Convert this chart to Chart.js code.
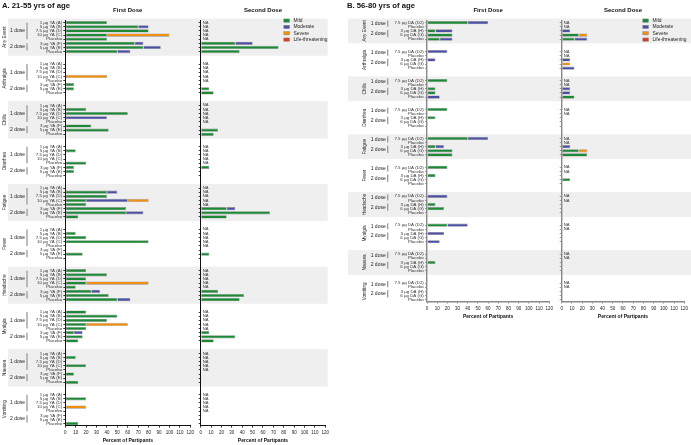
<!DOCTYPE html>
<html><head><meta charset="utf-8">
<script src="https://cdn.jsdelivr.net/npm/chart.js@4/dist/chart.umd.min.js"></script>
<style>
html,body{margin:0;padding:0;background:#fff;}
#wrap{position:relative;width:691px;height:445px;overflow:hidden;background:#fff;}
canvas{position:absolute;top:0;}
</style></head><body>
<div id="wrap">
<canvas id="a1" width="196" height="445" style="left:0px"></canvas>
<canvas id="a2" width="136" height="445" style="left:196px"></canvas>
<canvas id="b1" width="210" height="321" style="left:345px"></canvas>
<canvas id="b2" width="136" height="321" style="left:555px"></canvas>
</div>
<script>
const FONT = "'Liberation Sans', Arial, Helvetica, sans-serif";
Chart.defaults.font.family = FONT;
Chart.defaults.color = '#222';

const groups = ['Any Event','Arthralgia','Chills','Diarrhea','Fatigue','Fever','Headache','Myalgia','Nausea','Vomiting'];
const rowsA = ['1 µg YA (A)','5 µg YA (B)','7.5 µg YA (D)','10 µg YA (C)','Placebo','3 µg YA (F)','5 µg YA (E)','Placebo'];
const rowsB = ['7.5 µg DA (D2)','Placebo','3 µg DA (H)','6 µg DA (G)','Placebo'];
const severities = ['Mild','Moderate','Severe','Life-threatening'];
const severityColors = ['#1b8a36','#4b4fa6','#f0900f','#e23b1e'];
const xTicks = [0,10,20,30,40,50,60,70,80,90,100,110,120];
const NA = null;

// ---- A. 21-55 yrs, first dose (8 rows per group) ----
const aFirstMild = [
  40,70,80,40,40,66.7,75,50,
  0,0,0,0,0,8.3,8.3,0,
  0,20,60,0,0,25,41.7,0,
  0,10,0,0,20,8.3,8.3,0,
  0,40,40,20,20,58.3,58.3,12.5,
  0,10,20,80,0,0,16.7,0,
  20,40,20,20,10,25,41.7,50,
  20,50,40,20,20,8.3,16.7,12.5,
  0,10,0,20,0,8.3,0,12.5,
  0,20,0,0,0,0,0,12.5];
const aFirstModerate = [
  0,10,0,0,0,8.3,16.7,12.5,
  0,0,0,0,0,0,0,0,
  0,0,0,40,0,0,0,0,
  0,0,0,0,0,0,0,0,
  0,10,0,40,0,0,16.7,0,
  0,0,0,0,0,0,0,0,
  0,0,0,0,0,8.3,0,12.5,
  0,0,0,0,0,8.3,0,0,
  0,0,0,0,0,0,0,0,
  0,0,0,0,0,0,0,0];
const aFirstSevere = [
  0,0,0,60,0,0,0,0,
  0,0,0,40,0,0,0,0,
  0,0,0,0,0,0,0,0,
  0,0,0,0,0,0,0,0,
  0,0,0,20,0,0,0,0,
  0,0,0,0,0,0,0,0,
  0,0,0,60,0,0,0,0,
  0,0,0,40,0,0,0,0,
  0,0,0,0,0,0,0,0,
  0,0,0,20,0,0,0,0];
const aFirstLife = new Array(80).fill(0);

// ---- A. 21-55 yrs, second dose ----
const aSecondMild = [
  NA,NA,NA,NA,NA,33.3,75,37.5,
  NA,NA,NA,NA,NA,0,8.3,12.5,
  NA,NA,NA,NA,NA,0,16.7,12.5,
  NA,NA,NA,NA,NA,8.3,0,0,
  NA,NA,NA,NA,NA,25,66.7,25,
  NA,NA,NA,NA,NA,0,8.3,0,
  NA,NA,NA,NA,NA,16.7,41.7,37.5,
  NA,NA,NA,NA,NA,8.3,33.3,12.5,
  NA,NA,NA,NA,NA,0,0,0,
  NA,NA,NA,NA,NA,0,0,0];
const aSecondModerate = [
  NA,NA,NA,NA,NA,16.7,0,0,
  NA,NA,NA,NA,NA,0,0,0,
  NA,NA,NA,NA,NA,0,0,0,
  NA,NA,NA,NA,NA,0,0,0,
  NA,NA,NA,NA,NA,8.3,0,0,
  NA,NA,NA,NA,NA,0,0,0,
  NA,NA,NA,NA,NA,0,0,0,
  NA,NA,NA,NA,NA,0,0,0,
  NA,NA,NA,NA,NA,0,0,0,
  NA,NA,NA,NA,NA,0,0,0];
const aSecondSevere = aSecondModerate.map(v => v === NA ? NA : 0);
const aSecondLife = aSecondModerate.map(v => v === NA ? NA : 0);

// ---- B. 56-80 yrs, first dose (5 rows per group) ----
const bFirstMild = [
  40,0,8.3,25,12.5,
  0,0,0,0,0,
  20,0,8.3,8.3,0,
  20,0,8.3,0,0,
  40,0,8.3,25,25,
  20,0,8.3,0,0,
  0,0,8.3,16.7,0,
  20,0,0,0,0,
  0,0,8.3,0,0,
  0,0,0,0,0];
const bFirstModerate = [
  20,0,16.7,0,12.5,
  20,0,8.3,0,0,
  0,0,0,0,12.5,
  0,0,0,0,0,
  20,0,8.3,0,0,
  0,0,0,0,0,
  20,0,0,0,0,
  20,0,16.7,0,12.5,
  0,0,0,0,0,
  0,0,0,0,0];
const bFirstSevere = new Array(50).fill(0);
const bFirstLife = new Array(50).fill(0);

// ---- B. 56-80 yrs, second dose ----
const bSecondMild = [
  NA,NA,0,16.7,12.5,
  NA,NA,0,0,0,
  NA,NA,0,0,12.5,
  NA,NA,0,0,0,
  NA,NA,0,16.7,25,
  NA,NA,0,8.3,0,
  NA,NA,0,0,0,
  NA,NA,0,0,0,
  NA,NA,0,0,0,
  NA,NA,0,0,0];
const bSecondModerate = [
  NA,NA,8.3,0,12.5,
  NA,NA,8.3,0,12.5,
  NA,NA,8.3,8.3,0,
  NA,NA,0,0,0,
  NA,NA,8.3,0,0,
  NA,NA,0,0,0,
  NA,NA,0,0,0,
  NA,NA,0,0,0,
  NA,NA,0,0,0,
  NA,NA,0,0,0];
const bSecondSevere = [
  NA,NA,0,8.3,0,
  NA,NA,0,8.3,0,
  NA,NA,0,0,0,
  NA,NA,0,0,0,
  NA,NA,0,8.3,0,
  NA,NA,0,0,0,
  NA,NA,0,0,0,
  NA,NA,0,0,0,
  NA,NA,0,0,0,
  NA,NA,0,0,0];
const bSecondLife = bSecondSevere.map(v => v === NA ? NA : 0);

// ---- helpers ----
function buildLabels(rows){
  const out = [];
  groups.forEach((g, gi) => { rows.forEach(r => out.push(r)); if (gi < groups.length - 1) out.push('', ''); });
  return out;
}
function spread(values, n){
  const out = [];
  for (let g = 0; g < groups.length; g++){
    for (let r = 0; r < n; r++) out.push(values[g * n + r]);
    if (g < groups.length - 1) out.push(null, null);
  }
  return out;
}
function makeDatasets(arrs, n){
  return severities.map((name, k) => ({
    label: name,
    data: spread(arrs[k], n),
    backgroundColor: severityColors[k],
    borderColor: '#8f8f8f',
    borderWidth: c => (c.raw ? 0.6 : 0),
    borderSkipped: false,
    barPercentage: 0.78,
    categoryPercentage: 1,
    stack: 's'
  }));
}

function decor(o, n, stride){
  return {
    id: 'decor',
    beforeDraw(chart){
      const {ctx, chartArea: ca} = chart, y = chart.scales.y;
      const slot = y.getPixelForValue(1) - y.getPixelForValue(0);
      ctx.save();
      ctx.fillStyle = '#efefef';
      const x0 = o.bandLeft, x1 = (o.bandRight == null) ? chart.width : ca.right + o.bandRight;
      for (let g = 0; g < groups.length; g += 2){
        const t = y.getPixelForValue(g * stride) - slot;
        const b = y.getPixelForValue(g * stride + n - 1) + slot;
        ctx.fillRect(x0, t, x1 - x0, b - t);
      }
      ctx.restore();
    },
    afterDraw(chart){
      const {ctx, chartArea: ca} = chart, y = chart.scales.y;
      const slot = y.getPixelForValue(1) - y.getPixelForValue(0);
      const P = (g, r) => y.getPixelForValue(g * stride) + r * slot;
      ctx.save();
      ctx.textBaseline = 'middle';
      ctx.fillStyle = '#111';
      if (o.panelTitle){
        ctx.font = 'bold 7.7px ' + FONT; ctx.textAlign = 'left';
        ctx.fillText(o.panelTitle, 2, 5.5);
      }
      ctx.font = 'bold 6px ' + FONT; ctx.textAlign = 'center';
      ctx.fillText(o.heading, (ca.left + ca.right) / 2, 10.5);
      if (o.groupX != null){
        groups.forEach((gname, g) => {
          const yc = (P(g, 0) + P(g, n - 1)) / 2;
          ctx.save();
          ctx.translate(o.groupX, yc); ctx.rotate(-Math.PI / 2);
          ctx.font = '4.7px ' + FONT; ctx.textAlign = 'center'; ctx.fillStyle = '#222';
          ctx.fillText(gname, 0, 0);
          ctx.restore();
          o.doses.forEach(d => {
            const ya = P(g, d.a), yb = P(g, d.b);
            ctx.strokeStyle = '#9a9a9a'; ctx.lineWidth = 1.3;
            ctx.beginPath(); ctx.moveTo(o.bracketX, ya); ctx.lineTo(o.bracketX, yb); ctx.stroke();
            ctx.font = '5px ' + FONT; ctx.textAlign = 'right'; ctx.fillStyle = '#222';
            ctx.fillText(d.t, o.doseRight, (ya + yb) / 2);
          });
        });
      }
      // NA markers
      const labels = chart.data.labels;
      ctx.font = '4.1px ' + FONT; ctx.textAlign = 'left'; ctx.fillStyle = '#333';
      labels.forEach((lab, i) => {
        if (lab && chart.data.datasets.every(d => d.data[i] === null)){
          ctx.fillText('NA', ca.left + 2, y.getPixelForValue(i));
        }
      });
      if (o.legend){
        chart.data.datasets.forEach((d, k) => {
          const bx = ca.right - 41.5, by = ca.top + k * 6.33;
          ctx.fillStyle = d.backgroundColor;
          ctx.fillRect(bx, by - 1.65, 5.7, 3.3);
          ctx.strokeStyle = '#888'; ctx.lineWidth = 0.5;
          ctx.strokeRect(bx, by - 1.65, 5.7, 3.3);
          ctx.fillStyle = '#222'; ctx.font = '4.9px ' + FONT;
          ctx.fillText(d.label, bx + 9.7, by);
        });
      }
      ctx.restore();
    }
  };
}

function makeChart(id, o){
  const labels = buildLabels(o.rows);
  const n = o.rows.length, stride = n + 2;
  const ac = o.axisColor;
  return new Chart(document.getElementById(id), {
    type: 'bar',
    data: {labels, datasets: makeDatasets(o.data, n)},
    options: {
      indexAxis: 'y', responsive: false, animation: false, events: [],
      layout: {padding: {top: 20.6, right: o.padRight, left: 0, bottom: 0}},
      plugins: {legend: {display: false}, tooltip: {enabled: false}},
      scales: {
        x: {
          stacked: true, min: 0, max: 120,
          afterBuildTicks(s){ s.ticks = xTicks.map(v => ({value: v})); },
          ticks: {font: {size: 4.5}, color: '#222', padding: 2, maxRotation: 0, autoSkip: false},
          grid: {drawOnChartArea: false, drawTicks: true, tickLength: 2, tickColor: ac, tickWidth: o.tickW},
          border: {color: ac, width: o.axisW},
          title: {display: true, text: 'Percent of Partipants', font: {size: 5, weight: 'bold'}, color: '#111', padding: {top: 0, bottom: 1}},
          afterFit(s){ s.height = 19.3; }
        },
        y: {
          stacked: true,
          ticks: {display: o.showRowLabels, font: {size: 4.4}, color: '#333', padding: 1.2, autoSkip: false},
          grid: {drawOnChartArea: false, offset: false, tickLength: 2, tickWidth: o.tickW,
                 tickColor: c => (c.tick && c.tick.label) ? ac : 'rgba(0,0,0,0)'},
          border: {color: ac, width: o.axisW},
          afterFit(s){ s.width = o.yWidth; }
        }
      }
    },
    plugins: [decor(o, n, stride)]
  });
}

const dosesA = [{t: '1 dose', a: 0, b: 4}, {t: '2 dose', a: 5, b: 6.75}];
const dosesB = [{t: '1 dose', a: -0.5, b: 1}, {t: '2 dose', a: 1.75, b: 3.5}];

makeChart('a1', {rows: rowsA, data: [aFirstMild, aFirstModerate, aFirstSevere, aFirstLife],
  panelTitle: 'A. 21-55 yrs of age', heading: 'First Dose', showRowLabels: true, yWidth: 65.3, padRight: 5.3,
  groupX: 5, doseRight: 25, bracketX: 27, doses: dosesA, bandLeft: 8, bandRight: null,
  axisColor: '#111', axisW: 1, tickW: 0.8, legend: false});
makeChart('a2', {rows: rowsA, data: [aSecondMild, aSecondModerate, aSecondSevere, aSecondLife],
  heading: 'Second Dose', showRowLabels: false, yWidth: 4.7, padRight: 6.7,
  groupX: null, bandLeft: 0, bandRight: 2.4, axisColor: '#111', axisW: 1, tickW: 0.8, legend: true});
makeChart('b1', {rows: rowsB, data: [bFirstMild, bFirstModerate, bFirstSevere, bFirstLife],
  panelTitle: 'B. 56-80 yrs of age', heading: 'First Dose', showRowLabels: true, yWidth: 82, padRight: 5.3,
  groupX: 19.3, doseRight: 40.7, bracketX: 42.7, doses: dosesB, bandLeft: 3, bandRight: null,
  axisColor: '#888', axisW: 1.4, tickW: 0.8, legend: false});
makeChart('b2', {rows: rowsB, data: [bSecondMild, bSecondModerate, bSecondSevere, bSecondLife],
  heading: 'Second Dose', showRowLabels: false, yWidth: 6.7, padRight: 6.7,
  groupX: null, bandLeft: 0, bandRight: null, axisColor: '#888', axisW: 1.4, tickW: 0.8, legend: true});
</script>
</body></html>
